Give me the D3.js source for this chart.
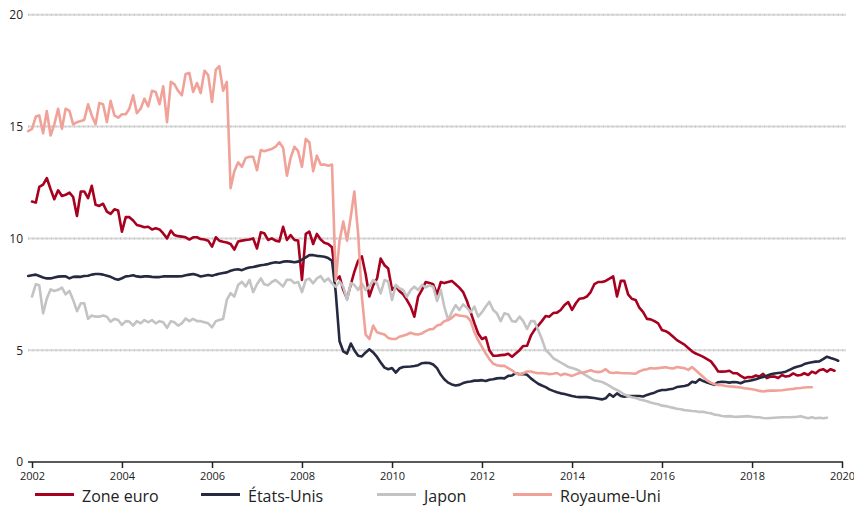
<!DOCTYPE html>
<html>
<head>
<meta charset="utf-8">
<script src="https://cdn.jsdelivr.net/npm/d3@7"></script>
<style>
  body { margin: 0; background: #fff; }
  svg { display: block; font-family: "Open Sans", "DejaVu Sans", sans-serif; }
</style>
</head>
<body>
<svg id="chart" width="854" height="510"></svg>
<script>
// Monthly series, each with its first month [year, monthIndex]
const seriesNames = ["Zone euro", "États-Unis", "Japon", "Royaume-Uni"];
const seriesColors = ["#a8001f", "#262a40", "#c3c3c3", "#f0a299"];
const seriesStarts = [[2002, 0], [2001, 11], [2002, 0], [2001, 11]];

const zoneEuro = [
  11.65, 11.6, 12.3, 12.4, 12.7, 12.2, 11.75, 12.15, 11.9, 11.95,
  12.05, 11.85, 11.0, 12.1, 12.1, 11.8, 12.35, 11.5, 11.45, 11.55,
  11.2, 11.1, 11.3, 11.25, 10.3, 10.95, 10.95, 10.8, 10.6, 10.55,
  10.5, 10.52, 10.4, 10.45, 10.4, 10.22, 10.0, 10.35, 10.15, 10.1,
  10.08, 10.05, 9.95, 10.05, 10.05, 9.97, 9.95, 9.9, 9.63, 10.05,
  9.9, 9.85, 9.82, 9.75, 9.5, 9.86, 9.9, 9.93, 9.95, 10.0,
  9.55, 10.27, 10.23, 9.93, 10.0, 9.9, 9.86, 10.52, 9.93, 10.15,
  9.93, 9.9, 8.14, 10.2, 10.3, 9.75, 10.2, 9.95, 9.8, 9.75,
  9.6, 8.15, 8.3, 7.7, 7.3, 7.95, 8.5, 9.0, 9.2, 8.4,
  7.4, 7.9, 8.2, 9.1, 8.8, 8.65, 7.7, 7.85, 7.65, 7.5,
  7.25, 6.95, 6.5, 7.4, 7.7, 8.05, 8.0, 7.95, 7.5, 8.05,
  8.0, 8.05, 8.1, 7.95, 7.8, 7.6, 7.2, 6.7, 6.2, 5.75,
  5.5, 5.58, 5.0, 4.75, 4.75, 4.78, 4.79, 4.84, 4.71, 4.85,
  5.0, 5.19, 5.2, 5.65, 5.9, 6.1, 6.3, 6.53, 6.5, 6.66,
  6.68, 6.8, 7.02, 7.15, 6.8, 7.1, 7.3, 7.32, 7.4, 7.6,
  7.95, 8.05, 8.05, 8.1, 8.2, 8.3, 7.4, 8.1, 8.1, 7.5,
  7.3, 7.25, 6.9, 6.7, 6.4, 6.38, 6.3, 6.2, 5.9, 5.85,
  5.75, 5.6, 5.45, 5.35, 5.25, 5.1, 4.95, 4.85, 4.78, 4.7,
  4.6, 4.5, 4.3, 4.05, 4.04, 4.05, 4.08, 3.97, 3.97, 3.85,
  3.75, 3.8, 3.79, 3.87, 3.82, 3.94, 3.75, 3.82, 3.82, 3.76,
  3.89, 3.82, 3.85, 3.96, 3.87, 3.89, 3.97, 3.89, 4.04, 3.97,
  4.1, 4.15, 4.04, 4.15, 4.08
];

const etatsUnis = [
  8.32, 8.35, 8.38, 8.32, 8.25, 8.21, 8.21, 8.25, 8.29, 8.3, 8.3,
  8.21, 8.28, 8.29, 8.28, 8.32, 8.33, 8.38, 8.41, 8.41, 8.38,
  8.33, 8.28, 8.2, 8.15, 8.22, 8.3, 8.32, 8.35, 8.3, 8.28,
  8.3, 8.3, 8.28, 8.27, 8.27, 8.3, 8.3, 8.3, 8.3, 8.3,
  8.31, 8.35, 8.38, 8.41, 8.36, 8.3, 8.33, 8.36, 8.33, 8.38,
  8.42, 8.45, 8.48, 8.55, 8.6, 8.62, 8.58, 8.65, 8.7, 8.72,
  8.76, 8.8, 8.82, 8.85, 8.9, 8.93, 8.91, 8.96, 8.98, 8.96,
  8.93, 8.96, 9.05, 9.15, 9.25, 9.25, 9.22, 9.2, 9.18, 9.12,
  9.0, 7.6, 5.4, 4.95, 4.85, 5.3, 5.0, 4.75, 4.72, 4.9,
  5.04, 4.9, 4.7, 4.45, 4.22, 4.15, 4.2, 4.0, 4.18, 4.25,
  4.26, 4.27, 4.29, 4.33, 4.42, 4.44, 4.43, 4.36, 4.2, 3.9,
  3.7, 3.55, 3.47, 3.42, 3.45, 3.53, 3.58, 3.6, 3.64, 3.64,
  3.66, 3.62, 3.68, 3.7, 3.74, 3.76, 3.74, 3.85, 3.87, 3.97,
  3.92, 3.94, 3.9, 3.74, 3.62, 3.5, 3.42, 3.35, 3.25, 3.18,
  3.12, 3.07, 3.04, 3.0, 2.95, 2.92, 2.9, 2.9, 2.9, 2.88,
  2.86, 2.83, 2.8, 2.85, 3.04, 2.92, 3.07, 2.95, 2.92, 2.95,
  2.95, 2.95, 2.95, 2.93, 3.0, 3.05, 3.1, 3.18, 3.22, 3.22,
  3.25, 3.28, 3.35, 3.38, 3.4, 3.44, 3.59, 3.55, 3.7, 3.62,
  3.55, 3.5, 3.45, 3.57, 3.59, 3.58, 3.55, 3.58, 3.57, 3.52,
  3.6, 3.62, 3.66, 3.7, 3.76, 3.8, 3.86, 3.92, 3.96, 3.98,
  4.0, 4.04, 4.12, 4.2, 4.26, 4.3, 4.38, 4.43, 4.46, 4.49,
  4.5, 4.6, 4.71, 4.65, 4.6, 4.53
];

const japon = [
  7.4, 7.95, 7.9, 6.65, 7.3, 7.72, 7.65, 7.7, 7.8, 7.5,
  7.65, 7.25, 6.75, 7.1, 7.1, 6.4, 6.55, 6.5, 6.5, 6.55,
  6.5, 6.27, 6.4, 6.35, 6.13, 6.3, 6.28, 6.1, 6.3, 6.2,
  6.35, 6.25, 6.35, 6.2, 6.3, 6.25, 6.0, 6.3, 6.25, 6.1,
  6.2, 6.42, 6.3, 6.4, 6.3, 6.3, 6.25, 6.2, 6.02, 6.3,
  6.35, 6.4, 7.25, 7.55, 7.4, 7.92, 8.06, 7.85, 8.14, 7.6,
  7.95, 8.21, 7.95, 7.9, 8.05, 8.14, 8.0, 7.85, 8.15, 8.15,
  8.0, 8.05, 7.6, 8.14, 8.2, 7.99, 8.21, 8.31, 8.07, 8.21,
  7.99, 7.84, 8.07, 7.84, 7.25, 8.0, 7.92, 7.69, 7.99, 7.69,
  7.84, 8.14, 7.99, 7.54, 8.14, 8.07, 7.25, 7.92, 7.77, 7.69,
  7.39, 7.69, 7.84, 7.69, 7.92, 7.81, 7.9, 7.84, 7.2, 7.69,
  6.95, 6.35, 6.7, 7.02, 6.8, 7.05, 6.9, 6.7, 6.95, 6.5,
  6.7, 6.95, 7.17, 6.8, 6.65, 6.3, 6.65, 6.6, 6.3, 6.27,
  6.5, 6.3, 5.95, 6.3, 6.3, 5.9, 5.5, 5.0, 4.85, 4.65,
  4.55, 4.45, 4.35, 4.25, 4.2, 4.15, 4.08, 3.95, 3.85, 3.75,
  3.65, 3.62, 3.58, 3.5, 3.4, 3.3, 3.22, 3.12, 3.02, 2.95,
  2.9, 2.86, 2.8, 2.76, 2.72, 2.66, 2.62, 2.58, 2.52, 2.5,
  2.46, 2.42, 2.38, 2.36, 2.32, 2.3, 2.28, 2.27, 2.24, 2.25,
  2.2, 2.18, 2.12, 2.1, 2.06, 2.04, 2.05, 2.03, 2.02, 2.03,
  2.04, 2.05, 2.02, 2.0, 2.0, 1.97, 1.96, 1.97, 1.98, 1.99,
  2.0, 2.0, 2.0, 2.01, 2.02, 2.05, 2.0, 1.96, 2.0, 1.96,
  1.98, 1.96, 1.98
];

const royaumeUni = [
  14.8, 14.9, 15.45, 15.5, 14.7, 15.7, 14.6, 15.1, 15.8, 14.9, 15.8,
  15.7, 15.1, 15.2, 15.25, 15.3, 16.0, 15.5, 15.1, 16.05, 16.0,
  15.2, 16.15, 15.5, 15.4, 15.55, 15.55, 15.8, 16.4, 15.6, 15.8,
  16.25, 15.9, 16.6, 16.55, 16.0, 16.8, 15.2, 17.0, 16.9, 16.6,
  16.4, 17.35, 17.4, 16.55, 16.95, 16.5, 17.5, 17.3, 16.1, 17.55,
  17.7, 16.6, 17.0, 12.25, 13.0, 13.4, 13.2, 13.6, 13.65, 13.65,
  13.05, 13.95, 13.9, 13.95, 14.0, 14.1, 14.3, 14.05, 12.8, 13.6,
  14.1, 13.9, 13.2, 14.45, 14.3, 13.0, 13.7, 13.3, 13.3, 13.25,
  13.3, 8.1, 9.9, 10.75, 9.9, 11.0, 12.1, 10.2, 7.4, 5.7,
  5.5, 6.1, 5.8, 5.75, 5.7, 5.55, 5.5, 5.5, 5.6, 5.65,
  5.7, 5.78, 5.72, 5.7, 5.75, 5.85, 5.93, 5.95, 6.1, 6.15,
  6.3, 6.35, 6.45, 6.6, 6.55, 6.53, 6.5, 6.3, 5.8, 5.45,
  5.15, 4.85, 4.6, 4.4, 4.33, 4.3, 4.3, 4.2, 4.1, 3.97,
  3.9, 3.97, 4.05, 4.05, 4.0, 3.97, 3.98, 3.96, 3.93, 3.95,
  3.98, 3.88, 3.95, 3.9, 3.85, 3.92, 3.98, 4.0, 4.05, 4.1,
  4.05, 4.02, 4.05, 4.15, 4.0, 3.98, 4.0, 3.98, 3.97, 3.97,
  3.96, 3.95, 4.05, 4.12, 4.15, 4.2, 4.18, 4.2, 4.22, 4.24,
  4.2, 4.18, 4.25, 4.22, 4.2, 4.12, 4.25, 4.1, 3.95, 3.8,
  3.65, 3.55, 3.48, 3.45, 3.43, 3.4, 3.38, 3.37, 3.35, 3.33,
  3.3, 3.28, 3.25, 3.22, 3.18, 3.15, 3.18, 3.19, 3.19, 3.2,
  3.21, 3.23, 3.25, 3.27, 3.3, 3.31, 3.33, 3.34, 3.34
];

const seriesValues = [zoneEuro, etatsUnis, japon, royaumeUni];
const xTickYears = [2002, 2004, 2006, 2008, 2010, 2012, 2014, 2016, 2018, 2020];
const yTickValues = [0, 5, 10, 15, 20];

const svg = d3.select("#chart");

const x = d3.scaleTime()
  .domain([new Date(2002, 0, 1), new Date(2020, 0, 1)])
  .range([32, 842]);
const y = d3.scaleLinear().domain([0, 20]).range([462, 14.8]);

// horizontal grid (dotted)
const grid = svg.append("g");
yTickValues.filter(v => v > 0).forEach(v => {
  grid.append("line")
    .attr("x1", 28).attr("x2", 846)
    .attr("y1", y(v)).attr("y2", y(v))
    .attr("stroke", "#dadada").attr("stroke-width", 2);
  grid.append("line")
    .attr("x1", 28).attr("x2", 846)
    .attr("y1", y(v)).attr("y2", y(v))
    .attr("stroke", "#c4c4c4").attr("stroke-width", 2)
    .attr("stroke-dasharray", "1,3.6");
});

// y labels
const yAxis = svg.append("g").attr("transform", "translate(24,0)")
  .call(d3.axisLeft(y).tickValues(yTickValues).tickSize(0).tickPadding(1));
yAxis.select(".domain").remove();
yAxis.selectAll("text")
  .attr("font-family", "'Open Sans', sans-serif")
  .attr("font-size", 12).attr("fill", "#222");

// x axis
const xAxis = svg.append("g").attr("transform", `translate(0,${y(0)})`)
  .call(d3.axisBottom(x)
    .tickValues(xTickYears.map(yr => new Date(yr, 0, 1)))
    .tickFormat(d3.timeFormat("%Y"))
    .tickSize(6).tickSizeOuter(0).tickPadding(4.5));
xAxis.select(".domain").remove();
xAxis.append("line")
  .attr("x1", 28).attr("x2", 843)
  .attr("stroke", "#222").attr("stroke-width", 1.5);
xAxis.selectAll(".tick line").attr("stroke", "#222").attr("stroke-width", 1.5);
xAxis.selectAll("text")
  .attr("font-family", "'Open Sans', sans-serif")
  .attr("font-size", 11).attr("fill", "#222");

// series lines
const line = d3.line()
  .x(d => x(d.date))
  .y(d => y(d.value))
  .curve(d3.curveLinear);

seriesValues.forEach((vals, i) => {
  const [sy, sm] = seriesStarts[i];
  const pts = vals.map((v, k) => ({ date: new Date(sy, sm + k, 1), value: v }));
  svg.append("path")
    .datum(pts)
    .attr("d", line)
    .attr("fill", "none")
    .attr("stroke", seriesColors[i])
    .attr("stroke-width", 2.6)
    .attr("stroke-linejoin", "round")
    .attr("stroke-linecap", "round");
});

// legend
const legendX = [35, 201, 377, 513];
const legend = svg.append("g");
seriesNames.forEach((name, i) => {
  const g = legend.append("g").attr("transform", `translate(${legendX[i]},0)`);
  g.append("line")
    .attr("x1", 0).attr("x2", 39)
    .attr("y1", 494.5).attr("y2", 494.5)
    .attr("stroke", seriesColors[i]).attr("stroke-width", 3);
  g.append("text")
    .attr("x", 47).attr("y", 501.5)
    .attr("font-size", 16).attr("fill", "#222")
    .text(name);
});
</script>
</body>
</html>
